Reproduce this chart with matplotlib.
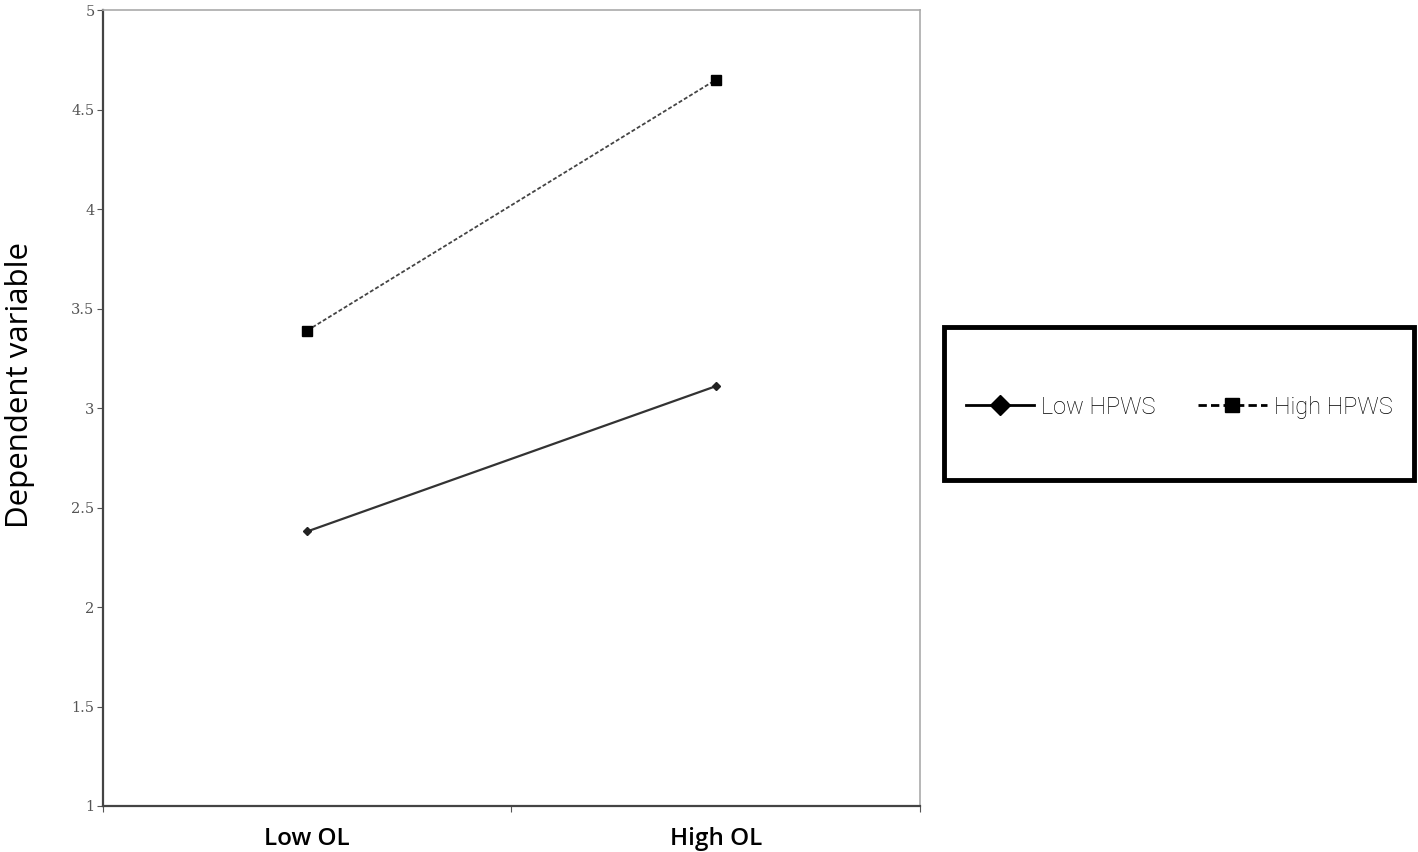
import matplotlib.pyplot as plt
from matplotlib.lines import Line2D
from matplotlib.patches import Rectangle

categories = ["Low OL", "High OL"]
low_hpws = [2.38, 3.11]
high_hpws = [3.39, 4.65]
yticks = [1, 1.5, 2, 2.5, 3, 3.5, 4, 4.5, 5]
ytick_labels = ["1", "1.5", "2", "2.5", "3", "3.5", "4", "4.5", "5"]

fig = plt.figure(figsize=(14.18, 8.52), dpi=100)
ax = fig.add_axes([0.0726, 0.054, 0.5762, 0.934])

x = [0.5, 1.5]
ax.plot(x, low_hpws, color="#333333", linewidth=1.6, marker="D", markersize=4.5,
        markerfacecolor="#222222", markeredgecolor="#222222")
ax.plot(x, high_hpws, color="#444444", linewidth=1.3, linestyle=(0, (2.2, 1.2)),
        marker="s", markersize=7, markerfacecolor="black", markeredgecolor="black")

ax.set_xlim(0, 2)
ax.set_ylim(1, 5)
ax.set_xticks([0, 1, 2])
ax.set_xticklabels([])
ax.set_xticks(x, minor=True)
ax.set_xticklabels(categories, minor=True, fontsize=17.5, fontweight="semibold",
                   family="Open Sans")
ax.tick_params(axis="x", which="minor", length=0, pad=15)
ax.tick_params(axis="x", which="major", length=4, direction="out", color="#555555")
ax.set_yticks(yticks)
ax.set_yticklabels(ytick_labels, fontsize=10.5, color="#555555", family="DejaVu Serif")
ax.tick_params(axis="y", length=4, direction="out", color="#555555", pad=2)

for side in ["left", "bottom"]:
    ax.spines[side].set_color("#444444")
    ax.spines[side].set_linewidth(1.6)
for side in ["top", "right"]:
    ax.spines[side].set_color("#aaaaaa")
    ax.spines[side].set_linewidth(1.2)

ax.set_ylabel("Dependent variable", fontsize=22.5, family="Open Sans")
ax.yaxis.set_label_coords(-0.083, 0.529)

# legend box
fig.patches.append(Rectangle((944 / 1418, 1 - 480 / 852), 470 / 1418, 153 / 852,
                             transform=fig.transFigure, fill=False,
                             edgecolor="black", linewidth=3.5))
handles = [
    Line2D([], [], color="black", linewidth=2, marker="D", markersize=10),
    Line2D([], [], color="black", linewidth=2, linestyle=(0, (3, 1.5)),
           marker="s", markersize=10),
]
fig.legend(handles, ["Low HPWS", "High HPWS"], loc="center",
           bbox_to_anchor=(1179 / 1418, 1 - 407 / 852), ncol=2, frameon=False,
           prop={"family": "Roboto", "weight": "light", "size": 17},
           handlelength=2.9, handletextpad=0.3, columnspacing=1.8)

fig.savefig("out.png", dpi=100)
